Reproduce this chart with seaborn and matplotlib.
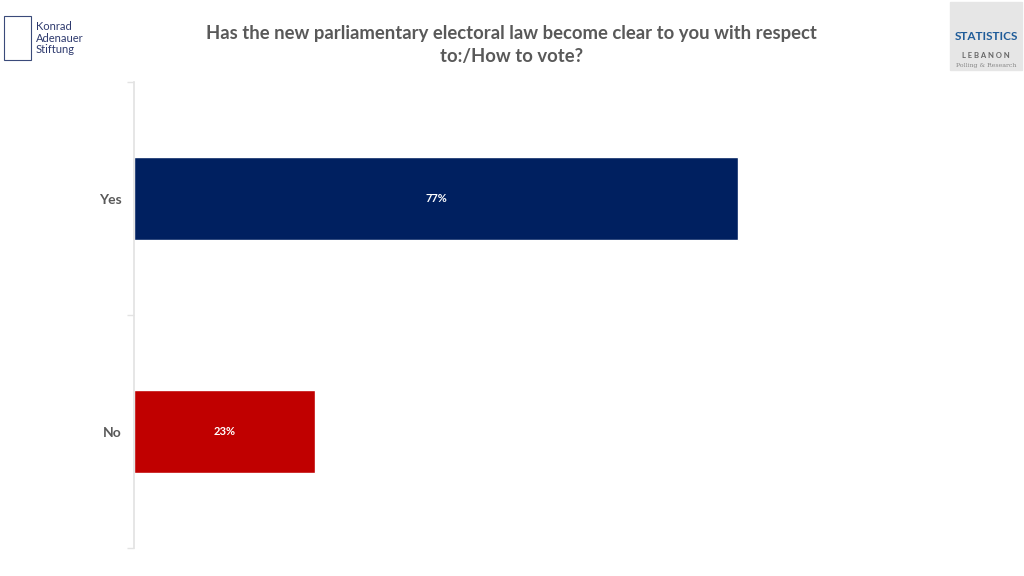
import matplotlib
matplotlib.use('Agg')
import matplotlib.pyplot as plt
import matplotlib.patches as mpatches
import pandas as pd
import seaborn as sns

# data
answers = ['Yes', 'No']
shares = [77, 23]
bar_colors = ['#002060', '#C00000']

title = 'Has the new parliamentary electoral law become clear to you with respect\nto:/How to vote?'

sns.set_theme(style='white')
plt.rcParams['font.family'] = ['Lato', 'DejaVu Sans']

df = pd.DataFrame({'answer': answers, 'share': shares})

fig = plt.figure(figsize=(10.24, 5.76), dpi=100)
ax = fig.add_axes([0.1309, 0.0486, 0.7666, 0.809])

sns.barplot(data=df, x='share', y='answer', hue='answer', palette=bar_colors,
            orient='h', width=0.356, legend=False, ax=ax, saturation=1)

ax.set_xlim(0, 100)
ax.set_ylim(1.5, -0.5)
ax.set_xlabel('')
ax.set_ylabel('')
ax.set_xticks([])

# category labels without tick marks, boundary ticks as minor
ax.set_yticks(range(len(answers)))
ax.set_yticklabels(answers, fontsize=10, color='#595959', fontweight='bold')
ax.tick_params(axis='y', which='major', length=0, pad=9)
ax.set_yticks([-0.5, 0.5, 1.5], minor=True)
ax.tick_params(axis='y', which='minor', length=5, color='#E3E3E3', width=1, left=True)

for side in ['top', 'right', 'bottom']:
    ax.spines[side].set_visible(False)
ax.spines['left'].set_color('#E3E3E3')

for i, v in enumerate(shares):
    ax.text(v / 2, i, f'{v}%', ha='center', va='center', color='white',
            fontsize=8, fontweight='bold')

fig.text(511.5 / 1024, 1 - 45 / 576, title, ha='center', va='center', fontsize=13.3,
         fontweight='bold', color='#595959', linespacing=1.45)

# logo left
fig.patches.append(mpatches.Rectangle((4 / 1024, 1 - 60 / 576), 27 / 1024, 44 / 576,
                                      transform=fig.transFigure, fill=False,
                                      edgecolor='#3A4A7A', linewidth=0.8))
fig.text(36 / 1024, 1 - 38 / 576, 'Konrad\nAdenauer\nStiftung', ha='left', va='center',
         fontsize=8, color='#2E3A6E', linespacing=1.05)

# logo right
fig.patches.append(mpatches.Rectangle((950 / 1024, 1 - 70 / 576), 72 / 1024, 68 / 576,
                                      transform=fig.transFigure, color='#E6E6E6'))
fig.text(986 / 1024, 1 - 37 / 576, 'STATISTICS', ha='center', va='center',
         fontsize=8.5, color='#1F5C99', fontweight='bold')
fig.text(986 / 1024, 1 - 56 / 576, 'L E B A N O N', ha='center', va='center',
         fontsize=5.5, color='#666666', fontweight='bold')
fig.text(986 / 1024, 1 - 65 / 576, 'Polling & Research', ha='center', va='center',
         fontsize=4.5, color='#888888', family=['DejaVu Serif'])

fig.savefig('out.png', dpi=100, facecolor='white')
